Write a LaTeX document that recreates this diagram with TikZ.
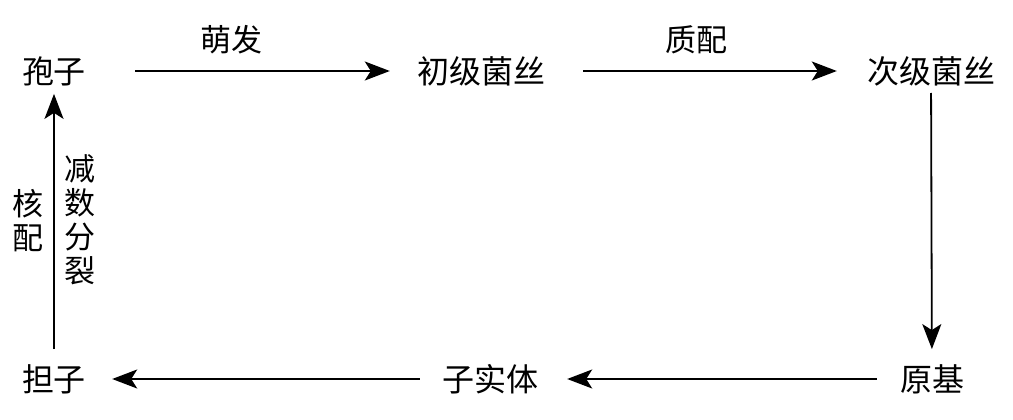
\documentclass[tikz,border=0pt]{standalone}
\usepackage{fontspec}
\newfontfamily\cjk{Noto Sans CJK SC}
\usetikzlibrary{arrows.meta, positioning}

\tikzset{
  stage/.style={inner sep=0pt, font=\cjk\fontsize{32}{35}\selectfont},
  flow/.style={line width=1.8pt, -{Stealth[length=25pt, width=19pt, inset=6pt]}},
  tag/.style={inner sep=0pt, align=center, font=\cjk\fontsize{31}{34}\selectfont}
}

\begin{document}
\begin{tikzpicture}[x=1pt, y=-1pt]
\useasboundingbox (0,0) rectangle (1013,420);
%
\node[stage] (spore) at (54,71) {孢子};
\node[stage] (prim) at (481,71) {初级菌丝};
\node[stage] (sec) at (931,71) {次级菌丝};
\node[stage] (pri) at (932,379) {原基};
\node[stage] (fruit) at (490,379) {子实体};
\node[stage] (basid) at (54,379) {担子};

\draw[flow, shorten <=49pt, shorten >=27pt] (spore) -- (prim)
  node[pos=0.44, above=16pt, tag] (germ) {萌发};
\draw[flow, shorten <=38pt, shorten >=30pt] (prim) -- (sec)
  node[pos=0.47, above=16pt, tag] (plasm) {质配};
\draw[flow, shorten <=7pt, shorten >=15pt] (sec) -- (pri);
\draw[flow, shorten <=23pt, shorten >=29pt] (pri) -- (fruit);
\draw[flow, shorten <=22pt, shorten >=26pt] (fruit) -- (basid);
\draw[flow, shorten <=15pt, shorten >=8pt] (basid.north -| spore) -- (spore);
%
\node[tag] (karyo) at (28,221) {核\\配};
\node[tag] (meio) at (80,220) {减\\数\\分\\裂};
\end{tikzpicture}
\end{document}
